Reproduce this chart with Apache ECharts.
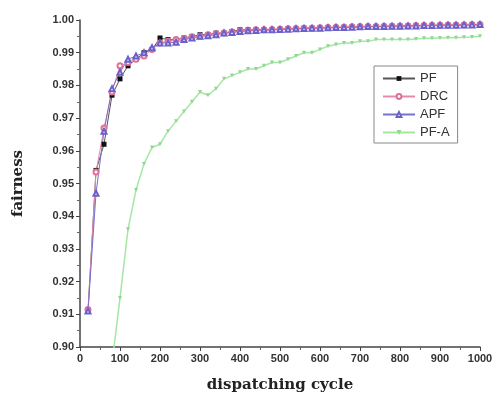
<!DOCTYPE html>
<html>
<head>
<meta charset="utf-8">
<script src="https://cdn.jsdelivr.net/npm/echarts@6/dist/echarts.min.js"></script>
<style>
  html, body { margin: 0; padding: 0; background: #fff; }
  #chart { width: 497px; height: 399px; }
</style>
</head>
<body>
<div id="chart"></div>
<script>
// dispatching cycle, every 20
var cycles = [20, 40, 60, 80, 100, 120, 140, 160, 180, 200,
  220, 240, 260, 280, 300, 320, 340, 360, 380, 400,
  420, 440, 460, 480, 500, 520, 540, 560, 580, 600,
  620, 640, 660, 680, 700, 720, 740, 760, 780, 800,
  820, 840, 860, 880, 900, 920, 940, 960, 980, 1000];

var pf = [0.911, 0.954, 0.962, 0.977, 0.982, 0.986, 0.988, 0.990, 0.991, 0.9945,
  0.994, 0.994, 0.9945, 0.995, 0.9955, 0.9955, 0.996, 0.996, 0.9965, 0.997,
  0.997, 0.997, 0.997, 0.997, 0.9972, 0.9973, 0.9973, 0.9975, 0.9975, 0.9976,
  0.9977, 0.9977, 0.9978, 0.9978, 0.9979, 0.998, 0.998, 0.998, 0.9981, 0.9981,
  0.9982, 0.9982, 0.9983, 0.9983, 0.9984, 0.9984, 0.9984, 0.9985, 0.9985, 0.9985];

var drc = [0.9115, 0.9535, 0.967, 0.978, 0.986, 0.987, 0.988, 0.989, 0.991, 0.993,
  0.9935, 0.994, 0.9943, 0.9948, 0.995, 0.9955, 0.9958, 0.996, 0.9963, 0.9966,
  0.9968, 0.997, 0.997, 0.9971, 0.9972, 0.9973, 0.9974, 0.9975, 0.9975, 0.9976,
  0.9977, 0.9978, 0.9978, 0.9979, 0.998, 0.998, 0.998, 0.9981, 0.9981, 0.9982,
  0.9982, 0.9983, 0.9983, 0.9984, 0.9984, 0.9985, 0.9985, 0.9985, 0.9986, 0.9986];

var apf = [0.911, 0.947, 0.966, 0.979, 0.984, 0.988, 0.989, 0.990, 0.9915, 0.993,
  0.993, 0.9932, 0.994, 0.9945, 0.995, 0.9952, 0.9955, 0.996, 0.9962, 0.9965,
  0.9967, 0.9968, 0.997, 0.997, 0.9971, 0.9972, 0.9973, 0.9974, 0.9975, 0.9975,
  0.9976, 0.9977, 0.9977, 0.9978, 0.9979, 0.998, 0.998, 0.998, 0.9981, 0.9981,
  0.9982, 0.9982, 0.9983, 0.9983, 0.9984, 0.9984, 0.9984, 0.9985, 0.9985, 0.9986];

var pfaCycles = [80, 100, 120, 140, 160, 180, 200, 220, 240, 260,
  280, 300, 320, 340, 360, 380, 400, 420, 440, 460,
  480, 500, 520, 540, 560, 580, 600, 620, 640, 660,
  680, 700, 720, 740, 760, 780, 800, 820, 840, 860,
  880, 900, 920, 940, 960, 980, 1000];
var pfa = [0.895, 0.915, 0.936, 0.948, 0.956, 0.961, 0.962, 0.966, 0.969, 0.972,
  0.975, 0.978, 0.977, 0.979, 0.982, 0.983, 0.984, 0.985, 0.985, 0.986,
  0.987, 0.987, 0.988, 0.989, 0.990, 0.990, 0.991, 0.992, 0.9925, 0.993,
  0.993, 0.9935, 0.9935, 0.994, 0.994, 0.994, 0.994, 0.994, 0.9942, 0.9944,
  0.9944, 0.9945, 0.9946, 0.9946, 0.9947, 0.9948, 0.995];

function pairs(xs, ys) {
  return xs.map(function (x, i) { return [x, ys[i]]; });
}

var chart = echarts.init(document.getElementById('chart'));

var option = {
  backgroundColor: '#fff',
  animation: false,
  grid: { left: 80, right: 17, top: 20, bottom: 52 },
  legend: {
    orient: 'vertical',
    left: 374,
    top: 66,
    itemWidth: 32,
    itemHeight: 6,
    itemGap: 5,
    padding: [6, 8, 4, 8],
    borderColor: '#888',
    borderWidth: 1,
    textStyle: { fontFamily: 'Liberation Sans', fontSize: 13, color: '#333' },
    data: ['PF', 'DRC', 'APF', 'PF-A']
  },
  xAxis: {
    type: 'value',
    min: 0,
    max: 1000,
    interval: 100,
    name: 'dispatching cycle',
    nameLocation: 'middle',
    nameGap: 31,
    nameTextStyle: { fontFamily: 'DejaVu Serif', fontWeight: 'bold', fontSize: 15, color: '#222' },
    axisLine: { lineStyle: { color: '#444', width: 1.5 } },
    axisTick: { length: 4, lineStyle: { color: '#444' } },
    minorTick: { show: true, splitNumber: 2, length: 3, lineStyle: { color: '#666' } },
    axisLabel: {
      fontFamily: 'Liberation Sans', fontWeight: 'bold', fontSize: 11, color: '#333', margin: 6,
      formatter: function (v) { return String(v); }
    },
    splitLine: { show: false }
  },
  yAxis: {
    type: 'value',
    min: 0.90,
    max: 1.00,
    interval: 0.01,
    name: 'fairness',
    nameLocation: 'middle',
    nameGap: 54,
    nameTextStyle: { fontFamily: 'DejaVu Serif', fontWeight: 'bold', fontSize: 15, color: '#222' },
    axisLine: { show: true, lineStyle: { color: '#444', width: 1.5 } },
    axisTick: { show: true, length: 4, lineStyle: { color: '#444' } },
    minorTick: { show: true, splitNumber: 2, length: 3, lineStyle: { color: '#666' } },
    axisLabel: {
      fontFamily: 'Liberation Sans', fontWeight: 'bold', fontSize: 11, color: '#333', margin: 6,
      formatter: function (v) { return v.toFixed(2); }
    },
    splitLine: { show: false }
  },
  series: [
    {
      name: 'PF',
      type: 'line',
      data: pairs(cycles, pf),
      symbol: 'rect',
      symbolSize: 5,
      color: '#111',
      lineStyle: { color: '#555', width: 1 },
      itemStyle: { color: '#111' }
    },
    {
      name: 'DRC',
      type: 'line',
      data: pairs(cycles, drc),
      symbol: 'emptyCircle',
      symbolSize: 5,
      color: '#e0709a',
      lineStyle: { color: '#e58aaa', width: 1 },
      itemStyle: { color: '#e0709a', borderWidth: 1 }
    },
    {
      name: 'APF',
      type: 'line',
      data: pairs(cycles, apf),
      symbol: 'emptyTriangle',
      symbolSize: 5,
      color: '#6a60cc',
      lineStyle: { color: '#7a70d0', width: 1 },
      itemStyle: { color: '#6a60cc', borderWidth: 1 }
    },
    {
      name: 'PF-A',
      type: 'line',
      data: pairs(pfaCycles, pfa),
      symbol: 'triangle',
      symbolRotate: 180,
      symbolSize: 4,
      color: '#8fd88f',
      lineStyle: { color: '#a5e6a5', width: 1.5 },
      itemStyle: { color: '#8fd88f' }
    }
  ]
};

chart.setOption(option);
</script>
</body>
</html>
